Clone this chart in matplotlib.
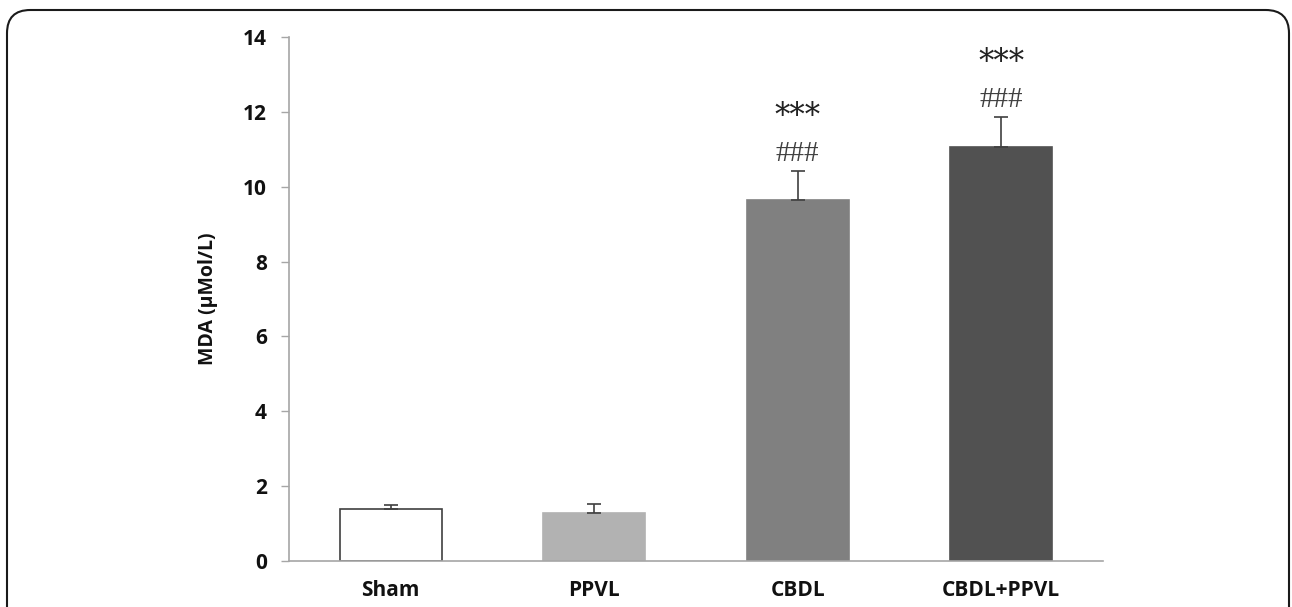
import numpy as np
import matplotlib.pyplot as plt
from matplotlib.patches import FancyBboxPatch

# Data
groups = ['Sham', 'PPVL', 'CBDL', 'CBDL+PPVL']
mda = [1.39, 1.28, 9.64, 11.06]
sem = [0.11, 0.24, 0.78, 0.80]
bar_colors = ['white', '#b2b2b2', '#808080', '#515151']
signif_star = ['', '', '***', '***']
signif_hash = ['', '', '###', '###']

W, H = 1292, 607
fig = plt.figure(figsize=(W / 100, H / 100), dpi=100)

# rounded outer frame (bottom edge runs off the image)
frame = FancyBboxPatch((7 / W, -0.1), (1289 - 7) / W, (H - 10) / H + 0.1,
                       boxstyle='round,pad=0,rounding_size=0.018',
                       transform=fig.transFigure, fill=False,
                       edgecolor='#1a1a1a', linewidth=1.5, mutation_aspect=W / H)
fig.patches.append(frame)

ax = fig.add_axes([289 / W, 1 - 561 / H, (1103 - 289) / W, (561 - 37) / H])
x = np.arange(len(groups))
ax.bar(x, mda, width=0.5, color=bar_colors,
       edgecolor=['#404040', '#b2b2b2', '#808080', '#515151'], linewidth=1.2, zorder=2)
ax.errorbar(x, mda, yerr=[np.zeros(len(sem)), sem], fmt='none', ecolor='#404040',
            elinewidth=1.2, capsize=5, capthick=1.2, zorder=3)

for i in range(len(groups)):
    if signif_hash[i]:
        top = mda[i] + sem[i]
        ax.text(x[i], top + 0.45, signif_hash[i], ha='center', va='center',
                fontsize=21, family='Liberation Serif', color='#404040')
        ax.text(x[i], top + 1.45, signif_star[i], ha='center', va='center',
                fontsize=22, family='DejaVu Serif', color='#222222')

ax.set_xlim(-0.5, len(groups) - 0.5)
ax.set_ylim(0, 14)
ax.set_yticks(range(0, 15, 2))
ax.set_xticks(x)
ax.set_xticklabels(groups)
for lab in ax.get_xticklabels() + ax.get_yticklabels():
    lab.set_fontfamily('Open Sans')
    lab.set_fontweight('bold')
    lab.set_fontsize(15)
    lab.set_color('#111111')
ax.tick_params(axis='x', length=0, pad=14)
ax.tick_params(axis='y', length=6, width=1, color='#a6a6a6', pad=10)

ax.spines['top'].set_visible(False)
ax.spines['right'].set_visible(False)
for s in ['left', 'bottom']:
    ax.spines[s].set_color('#a6a6a6')
    ax.spines[s].set_linewidth(1.2)

ax.set_ylabel('MDA (µMol/L)', fontsize=14, fontweight='bold', family='Open Sans',
              color='#111111', labelpad=18)

fig.savefig('out.png', dpi=100)
